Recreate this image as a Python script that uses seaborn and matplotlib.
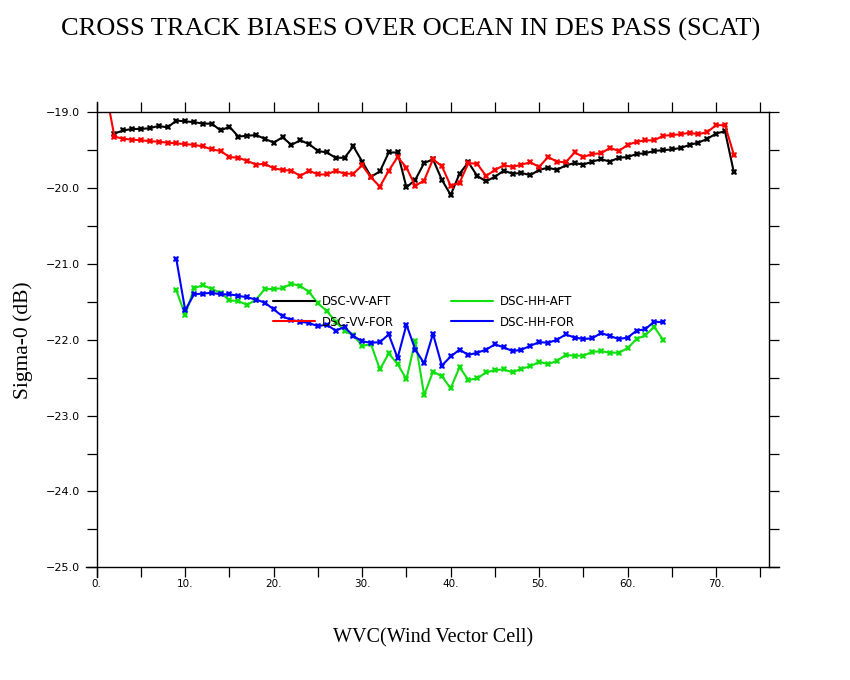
import matplotlib
matplotlib.use("Agg")
import matplotlib.pyplot as plt
from matplotlib.lines import Line2D
from matplotlib.ticker import MultipleLocator, FuncFormatter
import seaborn as sns
import pandas as pd

# Sigma-0 biases (dB) per wind vector cell
vv_aft_wvc = list(range(2, 73))
vv_aft = [-19.28, -19.24, -19.22, -19.22, -19.21, -19.18, -19.20, -19.11, -19.12,
          -19.13, -19.15, -19.15, -19.24, -19.19, -19.32, -19.31, -19.30, -19.35,
          -19.40, -19.33, -19.43, -19.37, -19.42, -19.51, -19.53, -19.60, -19.60,
          -19.45, -19.65, -19.85, -19.78, -19.53, -19.53, -19.99, -19.89, -19.67,
          -19.62, -19.89, -20.09, -19.81, -19.66, -19.84, -19.91, -19.85, -19.77,
          -19.81, -19.80, -19.83, -19.76, -19.73, -19.76, -19.70, -19.67, -19.69,
          -19.65, -19.62, -19.65, -19.60, -19.59, -19.55, -19.54, -19.51, -19.50,
          -19.49, -19.47, -19.43, -19.40, -19.35, -19.28, -19.25, -19.79]

vv_for_wvc = list(range(1, 73))
vv_for = [-18.70, -19.32, -19.35, -19.36, -19.37, -19.38, -19.39, -19.40, -19.41,
          -19.42, -19.43, -19.45, -19.49, -19.51, -19.59, -19.60, -19.64, -19.69,
          -19.68, -19.74, -19.76, -19.77, -19.84, -19.77, -19.82, -19.82, -19.77,
          -19.81, -19.81, -19.70, -19.86, -19.98, -19.77, -19.59, -19.73, -19.97,
          -19.90, -19.62, -19.71, -19.97, -19.93, -19.67, -19.68, -19.84, -19.76,
          -19.70, -19.72, -19.69, -19.66, -19.72, -19.59, -19.65, -19.66, -19.53,
          -19.59, -19.55, -19.54, -19.47, -19.51, -19.43, -19.39, -19.37, -19.37,
          -19.31, -19.30, -19.29, -19.27, -19.29, -19.26, -19.17, -19.17, -19.56]

hh_wvc = list(range(9, 65))
hh_aft = [-21.35, -21.67, -21.32, -21.28, -21.33, -21.38, -21.48, -21.49, -21.54,
          -21.47, -21.33, -21.33, -21.32, -21.26, -21.29, -21.37, -21.52, -21.62,
          -21.76, -21.88, -21.94, -22.08, -22.06, -22.39, -22.18, -22.32, -22.52,
          -22.01, -22.73, -22.42, -22.48, -22.64, -22.36, -22.53, -22.51, -22.43,
          -22.40, -22.39, -22.43, -22.38, -22.35, -22.29, -22.32, -22.28, -22.20,
          -22.21, -22.21, -22.16, -22.15, -22.17, -22.17, -22.11, -21.99, -21.94,
          -21.83, -22.00]
hh_for = [-20.94, -21.61, -21.40, -21.39, -21.38, -21.40, -21.40, -21.42, -21.44,
          -21.47, -21.51, -21.60, -21.69, -21.74, -21.76, -21.78, -21.82, -21.80,
          -21.88, -21.83, -21.95, -22.02, -22.04, -22.03, -21.93, -22.24, -21.80,
          -22.13, -22.31, -21.92, -22.34, -22.22, -22.13, -22.20, -22.17, -22.13,
          -22.06, -22.10, -22.15, -22.13, -22.08, -22.03, -22.04, -22.00, -21.93,
          -21.97, -21.99, -21.98, -21.91, -21.95, -21.99, -21.97, -21.88, -21.86,
          -21.76, -21.77]

series = ["DSC-VV-AFT", "DSC-VV-FOR", "DSC-HH-AFT", "DSC-HH-FOR"]
colors = ["#000000", "#ff0000", "#10e010", "#0000ff"]

# long table for seaborn
frames = []
for name, xs, ys in zip(series,
                        [vv_aft_wvc, vv_for_wvc, hh_wvc, hh_wvc],
                        [vv_aft, vv_for, hh_aft, hh_for]):
    frames.append(pd.DataFrame({"wvc": xs, "sigma0": ys, "series": name}))
df = pd.concat(frames, ignore_index=True)

sns.set_style("white")
plt.rcParams["font.family"] = ["DejaVu Sans"]
plt.rcParams["text.color"] = "black"
plt.rcParams["axes.labelcolor"] = "black"
plt.rcParams["xtick.color"] = "black"
plt.rcParams["ytick.color"] = "black"

fig = plt.figure(figsize=(8.5, 6.8), dpi=100)
ax = fig.add_axes([0.1138, 0.1657, 0.7912, 0.6692])

sns.lineplot(data=df, x="wvc", y="sigma0", hue="series", hue_order=series,
             palette=dict(zip(series, colors)), estimator=None, errorbar=None,
             marker="X", markersize=4.5, markeredgewidth=0, linewidth=1.5,
             legend=False, ax=ax)

ax.set_xlim(0, 76)
ax.set_ylim(-25, -19)

ax.xaxis.set_major_locator(MultipleLocator(10))
ax.xaxis.set_minor_locator(MultipleLocator(5))
ax.yaxis.set_major_locator(MultipleLocator(1))
ax.yaxis.set_minor_locator(MultipleLocator(0.5))
ax.xaxis.set_major_formatter(FuncFormatter(lambda v, p: f"{v:.0f}."))
ax.yaxis.set_major_formatter(FuncFormatter(lambda v, p: f"{v:.1f}".replace("-", "\u2212")))

ax.tick_params(which="both", direction="out", length=7.2, width=0.9, color="black",
               top=True, right=True, bottom=True, left=True,
               labeltop=False, labelright=False)
ax.tick_params(axis="y", which="major", labelsize=8, pad=4.8, labelcolor="black")
ax.tick_params(axis="x", which="major", labelsize=7.5, pad=1.5, labelcolor="black")

for side in ["left", "right", "top", "bottom"]:
    ax.spines[side].set_color("black")
    ax.spines[side].set_linewidth(1.0)
# GrADS-style axis lines run past the frame corners
ax.spines["left"].set_bounds(-25.13, -18.865)
ax.spines["bottom"].set_bounds(-1.2, 77.1)

ax.set_xlabel("WVC(Wind Vector Cell)", family="Liberation Serif", fontsize=14.5,
              color="black")
ax.set_ylabel("Sigma-0 (dB)", family="Liberation Serif", fontsize=15.5,
              color="black")
ax.xaxis.set_label_coords(0.5, -0.133)
ax.yaxis.set_label_coords(-0.095, 0.5)

handles = [Line2D([], [], color=c, linewidth=1.5) for c in colors]
leg = ax.legend(handles, series, ncol=2, loc="upper left", bbox_to_anchor=(0.262, 0.599),
                frameon=False, fontsize=8.5, handlelength=3.56, handletextpad=0.6,
                columnspacing=4.8, labelspacing=0.66, borderpad=0, borderaxespad=0)
for t in leg.get_texts():
    t.set_color("black")

fig.text(0.483, 0.957, "CROSS TRACK BIASES OVER OCEAN IN DES PASS (SCAT)",
         ha="center", va="center", family="Liberation Serif", fontsize=19,
         color="black")

fig.savefig("out.png", dpi=100, facecolor="white")
